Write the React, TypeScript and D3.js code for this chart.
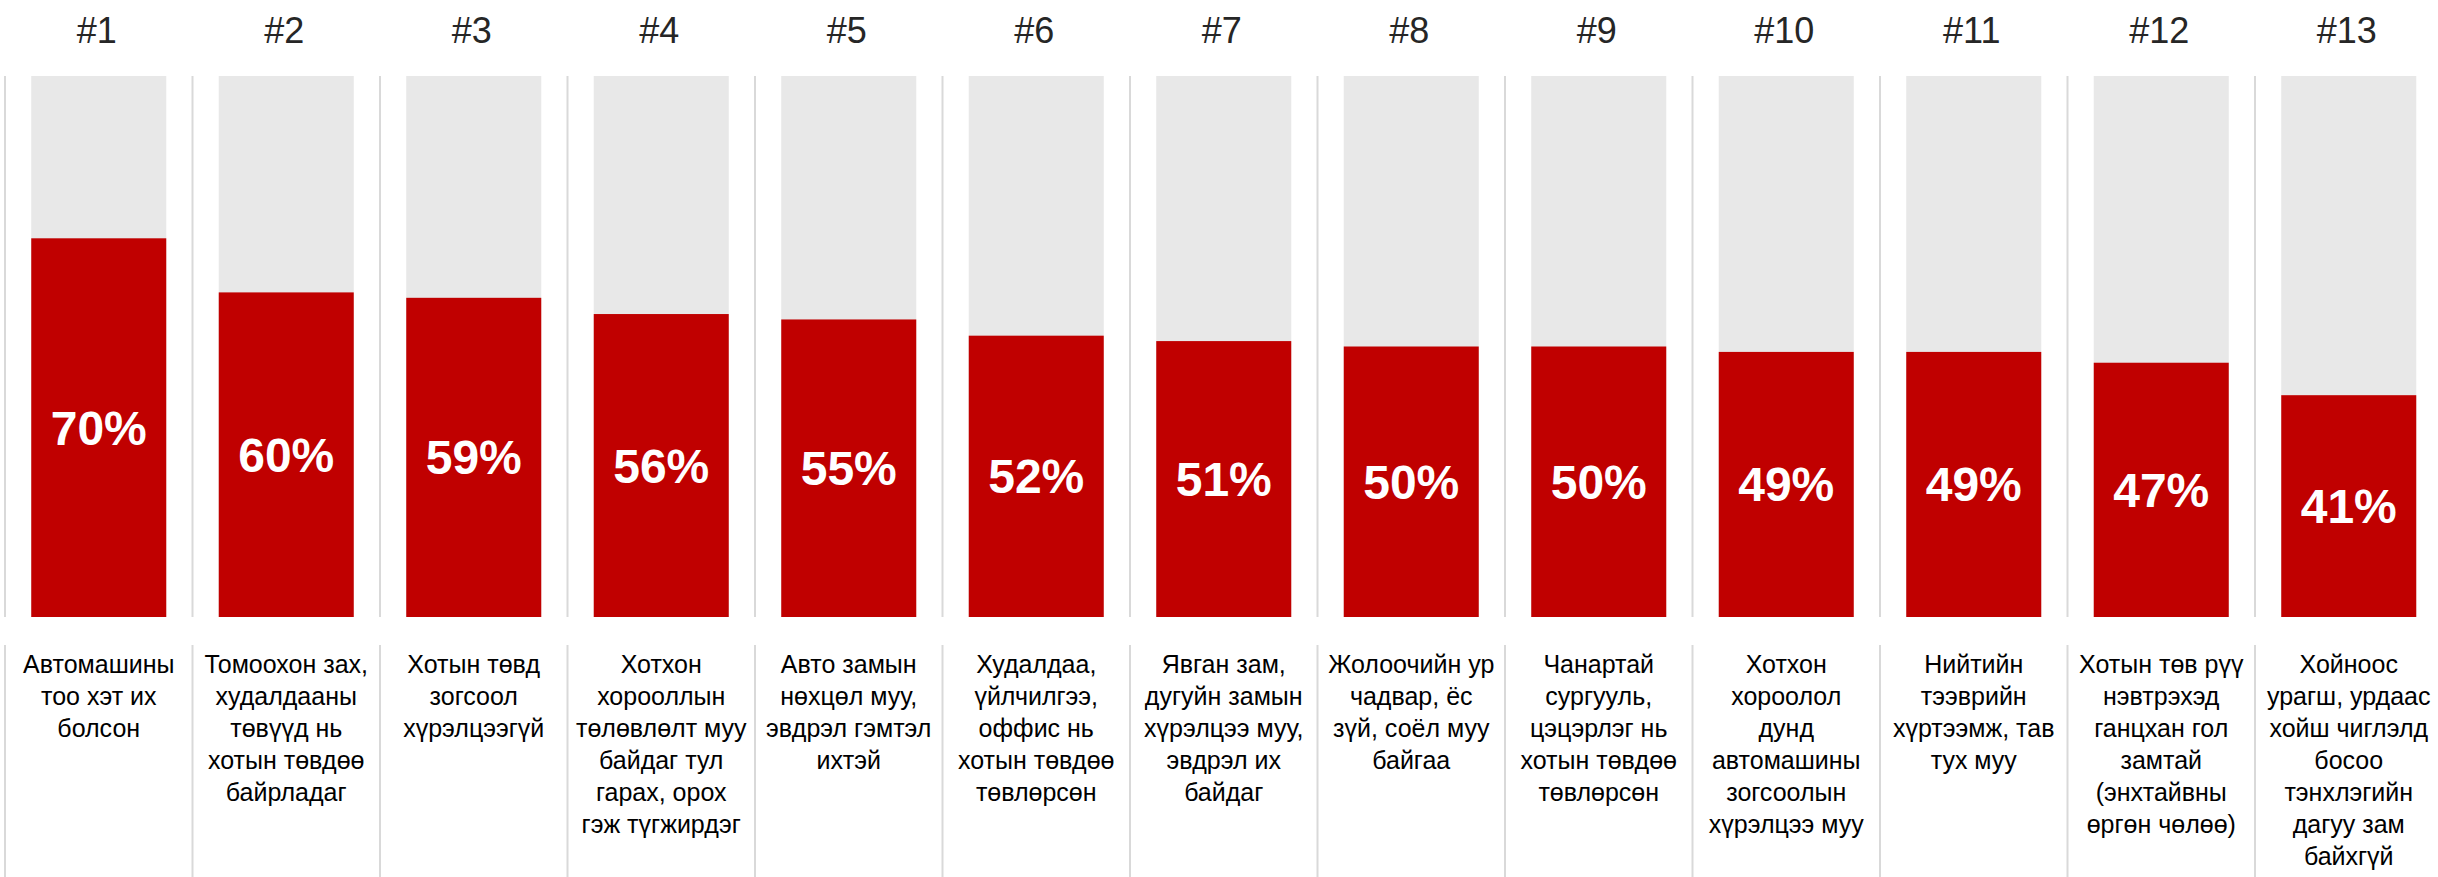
import React from "react";
import * as d3 from "d3";

const ranks = ["#1", "#2", "#3", "#4", "#5", "#6", "#7", "#8", "#9", "#10", "#11", "#12", "#13"];
const values = [70, 60, 59, 56, 55, 52, 51, 50, 50, 49, 49, 47, 41];
const labels: string[][] = [
  ["Автомашины", "тоо хэт их", "болсон"],
  ["Томоохон зах,", "худалдааны", "төвүүд нь", "хотын төвдөө", "байрладаг"],
  ["Хотын төвд", "зогсоол", "хүрэлцээгүй"],
  ["Хотхон", "хорооллын", "төлөвлөлт муу", "байдаг тул", "гарах, орох", "гэж түгжирдэг"],
  ["Авто замын", "нөхцөл муу,", "эвдрэл гэмтэл", "ихтэй"],
  ["Худалдаа,", "үйлчилгээ,", "оффис нь", "хотын төвдөө", "төвлөрсөн"],
  ["Явган зам,", "дугуйн замын", "хүрэлцээ муу,", "эвдрэл их", "байдаг"],
  ["Жолоочийн ур", "чадвар, ёс", "зүй, соёл муу", "байгаа"],
  ["Чанартай", "сургууль,", "цэцэрлэг нь", "хотын төвдөө", "төвлөрсөн"],
  ["Хотхон", "хороолол", "дунд", "автомашины", "зогсоолын", "хүрэлцээ муу"],
  ["Нийтийн", "тээврийн", "хүртээмж, тав", "тух муу"],
  ["Хотын төв рүү", "нэвтрэхэд", "ганцхан гол", "замтай", "(энхтайвны", "өргөн чөлөө)"],
  ["Хойноос", "урагш, урдаас", "хойш чиглэлд", "босоо", "тэнхлэгийн", "дагуу зам", "байхгүй"],
];

const W = 2438;
const H = 877;
const FONT = "'Liberation Sans', Arial, sans-serif";

export default function App() {
  const colScale = d3.scaleBand<string>().domain(ranks).range([5, 5 + 187.5 * 13]).padding(0);
  const barScale = d3
    .scaleBand<string>()
    .domain(ranks)
    .range([5, 5 + 187.5 * 13])
    .paddingInner(0.28)
    .paddingOuter(0.14);
  const y = d3.scaleLinear().domain([0, 100]).range([617, 76]);
  const bw = barScale.bandwidth();

  return (
    <svg
      width={W}
      height={H}
      style={{ position: "absolute", left: 0, top: 0, background: "#fff" }}
      fontFamily={FONT}
    >
      {ranks.map((r, i) => {
        const cx = colScale(r)!;
        const bx = barScale(r)!;
        const center = bx + bw / 2;
        const v = values[i];
        const midY = (y(v) + y(0)) / 2;
        return (
          <g key={r}>
            <line x1={cx} x2={cx} y1={y(100)} y2={y(0)} stroke="#d9d9d9" strokeWidth={2} />
            <line x1={cx} x2={cx} y1={645} y2={H} stroke="#d9d9d9" strokeWidth={2} />
            <text x={center - 2} y={43} textAnchor="middle" fontSize={36} fill="#262626">
              {r}
            </text>
            <rect x={bx} y={y(100)} width={bw} height={y(0) - y(100)} fill="#e8e8e8" />
            <rect x={bx} y={y(v)} width={bw} height={y(0) - y(v)} fill="#c00000" />
            <text
              x={center}
              y={midY + 17}
              textAnchor="middle"
              fontSize={48}
              fontWeight="bold"
              fill="#ffffff"
            >
              {v + "%"}
            </text>
            <text x={center} y={673} textAnchor="middle" fontSize={25} fill="#000">
              {labels[i].map((l, j) => (
                <tspan key={j} x={center} y={673 + j * 32}>
                  {l}
                </tspan>
              ))}
            </text>
          </g>
        );
      })}
    </svg>
  );
}
